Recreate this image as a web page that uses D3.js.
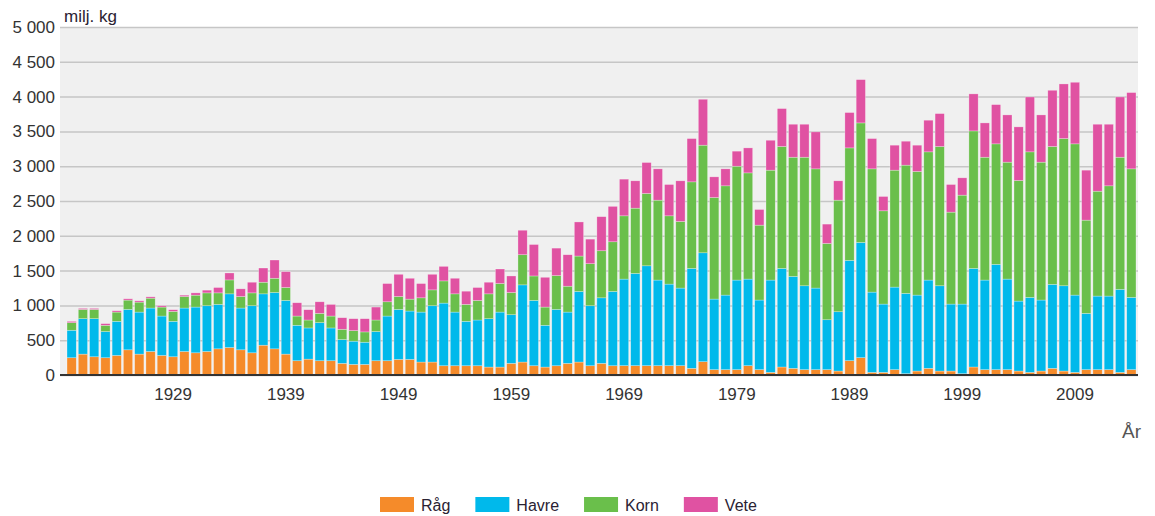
<!DOCTYPE html>
<html>
<head>
<meta charset="utf-8">
<script src="https://cdn.jsdelivr.net/npm/d3@7"></script>
<style>
  body { margin: 0; background: #fff; }
  svg { display: block; font-family: "Liberation Sans", Arial, sans-serif; }
</style>
</head>
<body>
<svg id="chart"></svg>
<script>
// år 1920–2014
const years = d3.range(1920, 2015);

// miljoner kg per gröda
const rag = [
  248, 300, 262, 248, 281, 362, 300, 338, 281, 262,
  338, 319, 338, 376, 395, 362, 319, 428, 376, 300,
  205, 228, 205, 205, 167, 152, 152, 205, 205, 224,
  224, 186, 186, 133, 133, 133, 133, 114, 114, 167,
  186, 133, 114, 133, 167, 186, 133, 167, 133, 134,
  134, 134, 134, 134, 134, 96, 191, 77, 77, 77,
  134, 77, 38, 115, 96, 77, 77, 77, 57, 206,
  249, 38, 38, 77, 19, 57, 96, 57, 57, 19,
  115, 77, 77, 77, 57, 38, 57, 96, 57, 38,
  77, 77, 77, 38, 77
];
const havre = [
  395, 509, 547, 376, 490, 580, 604, 624, 566, 509,
  624, 657, 657, 638, 771, 600, 676, 738, 809, 771,
  509, 448, 547, 471, 342, 334, 319, 419, 642, 718,
  695, 718, 809, 900, 771, 638, 657, 695, 790, 699,
  1109, 938, 600, 809, 737, 1014, 862, 942, 1067, 1244,
  1325, 1435, 1230, 1172, 1115, 1435, 1565, 1014, 1071, 1287,
  1244, 1000, 1326, 1416, 1320, 1205, 1172, 717, 852, 1440,
  1655, 1153, 981, 1186, 1153, 1091, 1268, 1225, 962, 1000,
  1416, 1287, 1512, 1301, 1005, 1077, 1020, 1206, 1225, 1110,
  808, 1057, 1057, 1192, 1038
];
const korn = [
  109, 133, 133, 90, 133, 134, 143, 142, 129, 143,
  166, 171, 185, 166, 200, 166, 185, 167, 205, 186,
  133, 114, 133, 171, 148, 152, 148, 166, 205, 186,
  171, 205, 228, 319, 262, 243, 281, 357, 410, 319,
  433, 352, 262, 486, 372, 509, 604, 676, 714, 909,
  938, 1039, 1148, 981, 957, 1244, 1546, 1459, 1570, 1636,
  1526, 1076, 1579, 1752, 1713, 1847, 1713, 1096, 1603, 1617,
  1718, 1771, 1340, 1680, 1843, 1776, 1842, 2001, 1321, 1565,
  1976, 1765, 1732, 1680, 1732, 2091, 1981, 1981, 2115, 2173,
  1340, 1507, 1584, 1899, 1847
];
const vete = [
  19, 15, 15, 24, 19, 19, 19, 19, 19, 24,
  19, 33, 39, 77, 100, 110, 153, 204, 262, 228,
  191, 148, 167, 167, 166, 171, 190, 186, 262, 319,
  300, 205, 224, 209, 224, 190, 186, 167, 209, 238,
  352, 452, 428, 395, 452, 490, 353, 490, 509, 527,
  393, 445, 450, 450, 584, 622, 660, 297, 244, 216,
  359, 225, 430, 545, 474, 474, 531, 278, 278, 508,
  622, 435, 206, 359, 344, 378, 455, 473, 397, 249,
  532, 493, 564, 679, 771, 789, 679, 808, 785, 885,
  718, 962, 885, 866, 1096
];

const seriesNames = ["Råg", "Havre", "Korn", "Vete"];
const seriesColors = ["#f58b2a", "#00b9eb", "#6abf4b", "#e052a2"];
const yTicks = [0, 500, 1000, 1500, 2000, 2500, 3000, 3500, 4000, 4500, 5000];
const xTickYears = [1929, 1939, 1949, 1959, 1969, 1979, 1989, 1999, 2009];

const width = 1155;
const height = 516;
const plot = { left: 60, right: 1138, top: 27, bottom: 375 };

const svg = d3.select("#chart").attr("width", width).attr("height", height);

const rows = years.map((y, i) => ({
  year: y, "Råg": rag[i], "Havre": havre[i], "Korn": korn[i], "Vete": vete[i]
}));
const stacked = d3.stack().keys(seriesNames)(rows);

const x = d3.scaleBand()
  .domain(years)
  .range([66, 1137])
  .paddingInner(0.18)
  .paddingOuter(0.09);

const y = d3.scaleLinear()
  .domain([0, 5000])
  .range([plot.bottom, plot.top]);

const color = d3.scaleOrdinal().domain(seriesNames).range(seriesColors);

// plot background
svg.append("rect")
  .attr("x", plot.left)
  .attr("y", plot.top)
  .attr("width", plot.right - plot.left)
  .attr("height", plot.bottom - plot.top)
  .attr("fill", "#f0f0f0");

// y axis with gridlines
const yAxis = svg.append("g")
  .attr("transform", `translate(${plot.left},0)`)
  .call(d3.axisLeft(y).tickValues(yTicks).tickSize(-(plot.right - plot.left)).tickPadding(5)
    .tickFormat(v => d3.format(",")(v).replace(",", " ")));
yAxis.select(".domain").remove();
yAxis.selectAll(".tick line").attr("stroke", "#c6c6c6").attr("stroke-width", 1.5);
yAxis.selectAll(".tick text")
  .attr("fill", "#333")
  .style("font-size", "17px");

// bars
svg.append("g")
  .selectAll("g")
  .data(stacked)
  .join("g")
  .attr("fill", d => color(d.key))
  .selectAll("rect")
  .data(d => d)
  .join("rect")
  .attr("x", d => x(d.data.year))
  .attr("y", d => y(d[1]))
  .attr("width", x.bandwidth())
  .attr("height", d => y(d[0]) - y(d[1]))
  .attr("stroke", "rgba(255,255,255,0.45)")
  .attr("stroke-width", 0.6);

// x axis
const xAxis = svg.append("g")
  .attr("transform", `translate(0,${plot.bottom})`)
  .call(d3.axisBottom(x).tickValues(xTickYears).tickSize(0).tickPadding(13));
xAxis.select(".domain").remove();
xAxis.selectAll(".tick text")
  .attr("fill", "#333")
  .style("font-size", "17px");

svg.append("line")
  .attr("x1", plot.left)
  .attr("x2", plot.right)
  .attr("y1", plot.bottom)
  .attr("y2", plot.bottom)
  .attr("stroke", "#333")
  .attr("stroke-width", 2);

// axis titles
svg.append("text")
  .attr("x", 64)
  .attr("y", 22)
  .attr("fill", "#2a2233")
  .style("font-size", "17px")
  .text("milj. kg");

svg.append("text")
  .attr("x", 1141)
  .attr("y", 438)
  .attr("text-anchor", "end")
  .attr("fill", "#555")
  .style("font-size", "19px")
  .text("År");

// legend
const legend = svg.append("g").attr("transform", "translate(380,497)");
let lx = 0;
seriesNames.forEach((name, i) => {
  const item = legend.append("g").attr("transform", `translate(${lx},0)`);
  item.append("rect")
    .attr("width", 34)
    .attr("height", 15)
    .attr("fill", seriesColors[i]);
  const t = item.append("text")
    .attr("x", 41)
    .attr("y", 14)
    .attr("fill", "#2a2233")
    .style("font-size", "16px")
    .text(name);
  lx += 41 + t.node().getComputedTextLength() + 25;
});
</script>
</body>
</html>
